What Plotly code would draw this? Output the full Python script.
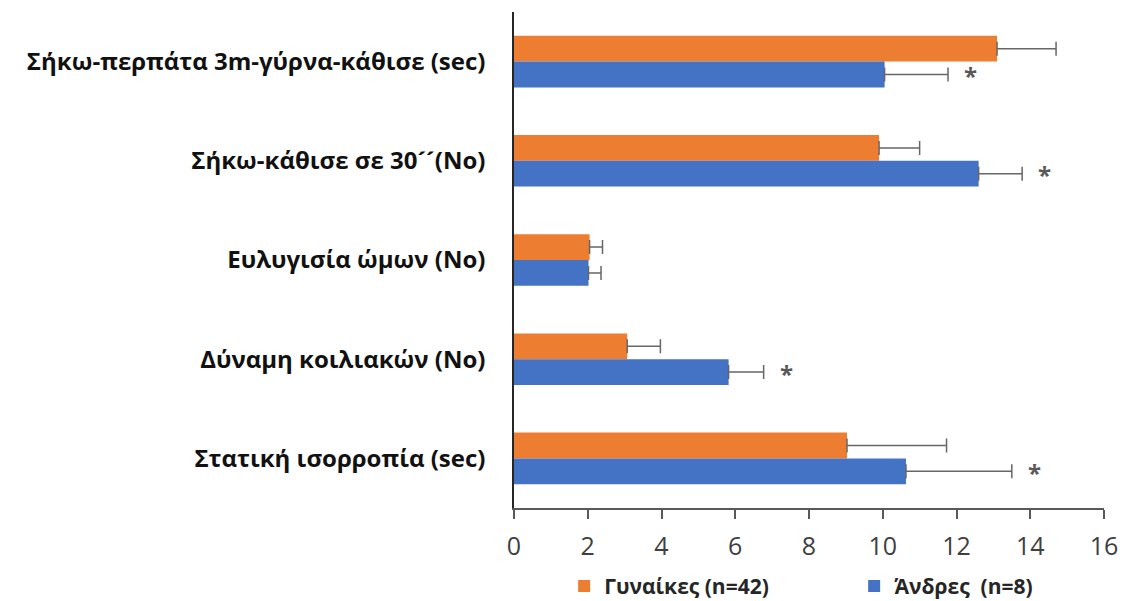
import plotly.graph_objects as go

# Test names, listed top to bottom
categories = [
    "Σήκω-περπάτα 3m-γύρνα-κάθισε (sec)",
    "Σήκω-κάθισε σε 30´´(No)",
    "Ευλυγισία ώμων (No)",
    "Δύναμη κοιλιακών (No)",
    "Στατική ισορροπία (sec)",
]

women_name = "Γυναίκες (n=42)"
men_name = "Άνδρες  (n=8)"

women_mean = [13.1, 9.9, 2.05, 3.07, 9.03]
women_sd = [1.6, 1.1, 0.35, 0.9, 2.7]

men_mean = [10.05, 12.6, 2.02, 5.82, 10.63]
men_sd = [1.72, 1.18, 0.34, 0.95, 2.87]

# Significant differences between the groups
significant = [True, True, False, True, True]

x_ticks = [0, 2, 4, 6, 8, 10, 12, 14, 16]

ORANGE = "#ED7D31"
BLUE = "#4472C4"
ERR = "#666666"

fig = go.Figure()

fig.add_trace(go.Bar(
    name=women_name,
    y=categories,
    x=women_mean,
    orientation="h",
    marker=dict(color=ORANGE, line=dict(width=0)),
    error_x=dict(type="data", array=women_sd, arrayminus=[0] * len(women_sd),
                 symmetric=False, color=ERR, thickness=1.5, width=7),
))
fig.add_trace(go.Bar(
    name=men_name,
    y=categories,
    x=men_mean,
    orientation="h",
    marker=dict(color=BLUE, line=dict(width=0)),
    error_x=dict(type="data", array=men_sd, arrayminus=[0] * len(men_sd),
                 symmetric=False, color=ERR, thickness=1.5, width=7),
))

# Asterisks beside the men's error bars
for cat, m, s, sig in zip(categories, men_mean, men_sd, significant):
    if sig:
        fig.add_annotation(
            x=m + s, y=cat, xref="x", yref="y",
            text="<b>*</b>", showarrow=False,
            xanchor="left", yanchor="middle",
            xshift=14, yshift=-14,
            font=dict(size=24, color="#595959", family="Open Sans"),
        )

fig.update_layout(
    width=1124,
    height=601,
    margin=dict(l=514, r=20, t=12, b=93, autoexpand=False),
    paper_bgcolor="white",
    plot_bgcolor="white",
    barmode="group",
    bargap=0.48,
    bargroupgap=0,
    showlegend=True,
    legend=dict(
        orientation="h",
        x=0.085, xanchor="left",
        y=-0.158, yanchor="middle",
        font=dict(family="Open Sans", size=21, color="#262626", weight="bold"),
        entrywidth=245,
        itemclick=False,
        traceorder="normal",
    ),
    xaxis=dict(
        range=[0, 16],
        tickvals=x_ticks,
        ticktext=[str(t) for t in x_ticks],
        showgrid=False,
        zeroline=False,
        showline=True,
        linecolor="#595959",
        linewidth=1.5,
        ticks="outside",
        ticklen=9,
        tickwidth=1.5,
        tickcolor="#595959",
        ticklabelstandoff=6,
        tickfont=dict(family="Open Sans", size=25, color="#404040"),
        fixedrange=True,
    ),
    yaxis=dict(
        categoryorder="array",
        categoryarray=categories,
        autorange="reversed",
        showgrid=False,
        zeroline=False,
        showline=True,
        linecolor="#262626",
        linewidth=1.5,
        ticks="",
        ticklabelstandoff=22,
        tickfont=dict(family="Open Sans", size=24, color="#111111", weight="bold"),
        fixedrange=True,
    ),
)

fig.write_html("out.html")
